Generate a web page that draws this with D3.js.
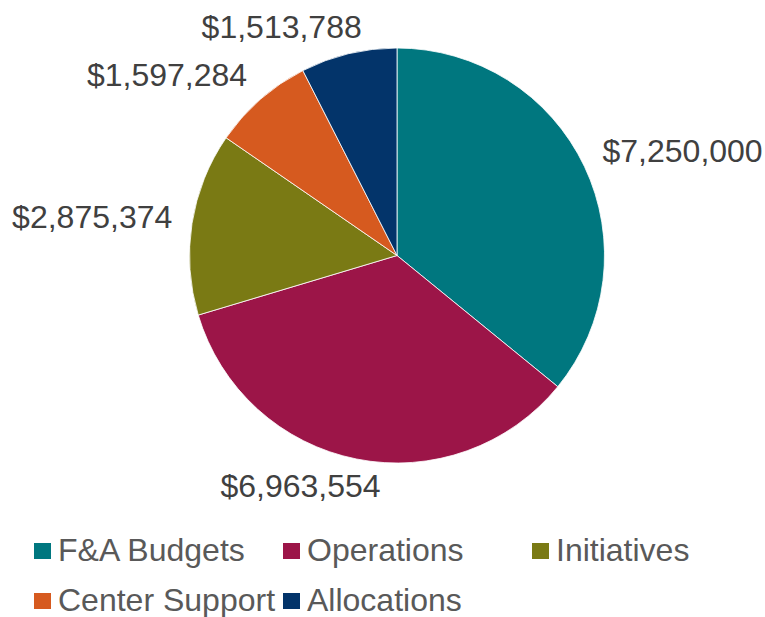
<!DOCTYPE html>
<html>
<head>
<meta charset="utf-8">
<script src="https://cdn.jsdelivr.net/npm/d3@7"></script>
<style>
  body { margin: 0; background: #fff; }
  svg { display: block; font-family: "Liberation Sans", Arial, sans-serif; }
</style>
</head>
<body>
<div id="chart"></div>
<script>
// budget pie
let categories = ["F&A Budgets", "Operations", "Initiatives", "Center Support", "Allocations"]
let amounts = [7250000, 6963554, 2875374, 1597284, 1513788]
let colors = ["#00777F", "#9C1548", "#7A7A14", "#D65A1F", "#03346A"]

var width = 765, height = 617
var cx = 397, cy = 255.5, radius = 207.5

var svg = d3.select("#chart")
    .append("svg")
    .attr("width", width)
    .attr("height", height)

let pie = d3.pie().sort(null).value(d => d)
let arcs = pie(amounts)
let arc = d3.arc().innerRadius(0).outerRadius(radius)

let g = svg.append("g").attr("transform", "translate(" + cx + "," + cy + ")")

g.selectAll("path")
    .data(arcs)
    .enter()
    .append("path")
    .attr("d", arc)
    .attr("fill", (d, i) => colors[i])
    .attr("stroke", "#fff")
    .attr("stroke-width", 0.8)

// data labels, outside end
let fmt = d3.format("$,")
let labelSize = 32
let clamp = (v) => Math.max(-1, Math.min(1, v))

g.selectAll("text.val")
    .data(arcs)
    .enter()
    .append("text")
    .attr("class", "val")
    .attr("font-size", labelSize)
    .attr("fill", "#404040")
    .attr("text-anchor", "middle")
    .text(d => fmt(d.data))
    .each(function (d) {
        let a = (d.startAngle + d.endAngle) / 2
        let s = Math.sin(a), c = Math.cos(a)
        let w = this.getComputedTextLength(), h = 30
        let x = (radius + 20) * s + clamp(s / 0.3) * w / 2
        let y = -(radius + 12) * c + clamp(-c / 0.6) * h / 2
        d3.select(this).attr("x", x).attr("y", y + labelSize * 0.34)
    })

// legend
let legend = svg.append("g").attr("transform", "translate(34,543)")
let item = legend.selectAll("g")
    .data(categories)
    .enter()
    .append("g")
    .attr("transform", (d, i) => "translate(" + (249 * (i % 3)) + "," + (50 * Math.floor(i / 3)) + ")")

item.append("rect")
    .attr("width", 17)
    .attr("height", 16)
    .attr("fill", (d, i) => colors[i])

item.append("text")
    .attr("x", 24)
    .attr("y", 17.5)
    .attr("font-size", 32)
    .attr("fill", "#595959")
    .text(d => d)
</script>
</body>
</html>
